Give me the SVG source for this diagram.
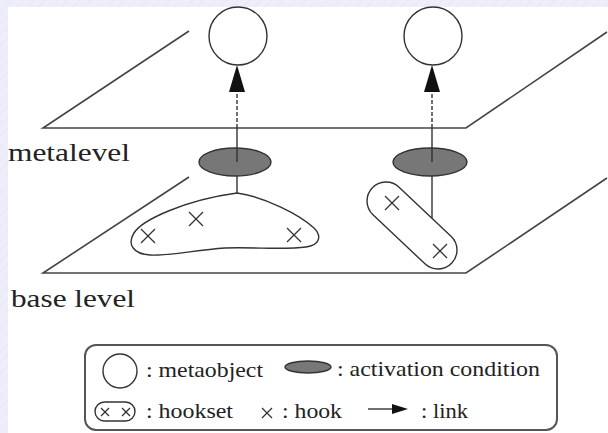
<svg xmlns="http://www.w3.org/2000/svg" width="608" height="433" viewBox="0 0 608 433">
  <defs>
    <pattern id="hatch" width="8" height="8" patternUnits="userSpaceOnUse" patternTransform="rotate(45)">
      <rect width="8" height="8" fill="#eeeefb"/>
      <line x1="0" y1="0" x2="0" y2="8" stroke="#e6e6f7" stroke-width="2"/>
    </pattern>
    <g id="hook">
      <line x1="-7" y1="-7" x2="7" y2="7"/>
      <line x1="-7" y1="7" x2="7" y2="-7"/>
    </g>
    <g id="hookSmall">
      <line x1="-4" y1="-4" x2="4" y2="4"/>
      <line x1="-4" y1="4" x2="4" y2="-4"/>
    </g>
    <g id="hookKey">
      <line x1="-5" y1="-5" x2="5" y2="5"/>
      <line x1="-5" y1="5" x2="5" y2="-5"/>
    </g>
  </defs>
  <style>
    .plane { fill: none; stroke: #444; stroke-width: 1.6; }
    .outline { fill: #fff; stroke: #333; stroke-width: 1.4; }
    .cond { fill: #777; stroke: #333; stroke-width: 1.4; }
    .x { stroke: #333; stroke-width: 1.3; fill: none; }
    .wire { stroke: #333; stroke-width: 1.4; fill: none; }
    .dash { stroke: #333; stroke-width: 1.4; fill: none; stroke-dasharray: 4 2; }
    .label { font-family: "Liberation Serif", "DejaVu Serif", serif; font-size: 26px; fill: #222; }
    .legend { font-family: "Liberation Serif", "DejaVu Serif", serif; font-size: 22px; fill: #222; }
  </style>

  <!-- page background with hatched frame -->
  <rect width="608" height="433" fill="url(#hatch)"/>
  <rect x="8" y="7" width="600" height="426" fill="#fff"/>

  <!-- levels -->
  <g id="metalevel">
    <polyline class="plane" points="189,31 43,128 466,128 607,32"/>
    <text class="label" x="8" y="161" textLength="122" lengthAdjust="spacingAndGlyphs">metalevel</text>
  </g>
  <g id="baselevel">
    <polyline class="plane" points="189,177 43,273 466,273 607,178"/>
    <text class="label" x="11" y="307" textLength="124" lengthAdjust="spacingAndGlyphs">base level</text>
  </g>

  <!-- connectors: hookset to condition, condition to metaobject -->
  <g id="connectors">
    <line class="wire" x1="237" y1="176" x2="237" y2="193"/>
    <line class="wire" x1="432" y1="176" x2="432" y2="219"/>
    <line class="wire" x1="237" y1="162" x2="237" y2="128"/>
    <line class="dash" x1="237" y1="128" x2="237" y2="90"/>
    <path d="M237,65 L245,92 L229,92 Z" fill="#111"/>
    <line class="wire" x1="432" y1="162" x2="432" y2="128"/>
    <line class="dash" x1="432" y1="128" x2="432" y2="90"/>
    <path d="M432,65 L440,92 L424,92 Z" fill="#111"/>
  </g>

  <g id="metaobject1">
    <circle class="outline" cx="238" cy="36" r="29"/>
  </g>
  <g id="metaobject2">
    <circle class="outline" cx="433" cy="36" r="29"/>
  </g>

  <g id="condition1">
    <ellipse class="cond" cx="235" cy="162" rx="36" ry="14"/>
    <line class="wire" x1="237" y1="148" x2="237" y2="162"/>
  </g>
  <g id="condition2">
    <ellipse class="cond" cx="430" cy="162" rx="37" ry="14"/>
    <line class="wire" x1="432" y1="148" x2="432" y2="162"/>
  </g>

  <g id="hookset1">
    <path class="outline" d="M237,193 C265,197 300,215 314,228 C322,236 320,245 306,247 C285,250 255,247 225,248 C195,250 170,256 150,255 C133,254 127,244 134,233 C142,220 185,200 237,193 Z"/>
    <use href="#hook" class="x" x="148" y="236"/>
    <use href="#hook" class="x" x="196" y="219"/>
    <use href="#hook" class="x" x="294" y="235"/>
  </g>
  <g id="hookset2">
    <rect class="outline" x="357.3" y="206.5" width="109.4" height="38" rx="19" transform="rotate(43.3 412 225.5)"/>
    <use href="#hook" class="x" x="392" y="203"/>
    <use href="#hook" class="x" x="440" y="251"/>
  </g>

  <!-- key -->
  <g id="legend">
    <rect x="85" y="345" width="472" height="85" rx="11" fill="none" stroke="#555" stroke-width="2"/>
    <circle class="outline" cx="120" cy="371" r="17"/>
    <text class="legend" x="146" y="377" textLength="117" lengthAdjust="spacingAndGlyphs">: metaobject</text>
    <ellipse class="cond" cx="308" cy="367" rx="23" ry="6"/>
    <text class="legend" x="337" y="376" textLength="203" lengthAdjust="spacingAndGlyphs">: activation condition</text>
    <rect class="outline" x="95" y="402" width="40" height="19" rx="9.5"/>
    <use href="#hookSmall" class="x" x="105" y="412"/>
    <use href="#hookSmall" class="x" x="126" y="412"/>
    <text class="legend" x="146" y="418" textLength="87" lengthAdjust="spacingAndGlyphs">: hookset</text>
    <use href="#hookKey" class="x" x="267" y="413"/>
    <text class="legend" x="282" y="418" textLength="60" lengthAdjust="spacingAndGlyphs">: hook</text>
    <line class="wire" x1="368" y1="409" x2="394" y2="409"/>
    <path d="M408,409 L392,404 L392,414 Z" fill="#111"/>
    <text class="legend" x="421" y="418" textLength="47" lengthAdjust="spacingAndGlyphs">: link</text>
  </g>
</svg>
